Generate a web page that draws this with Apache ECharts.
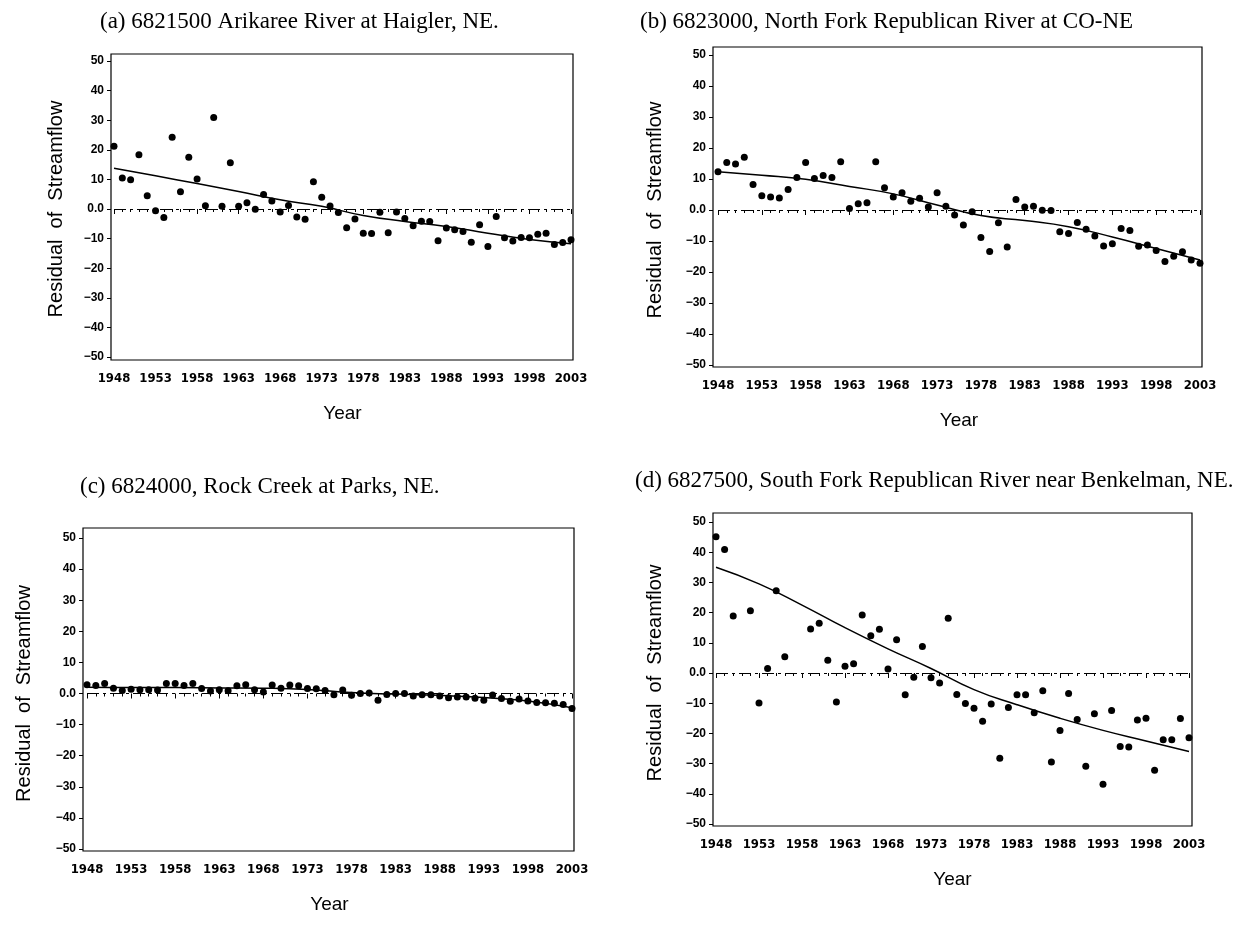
<!DOCTYPE html>
<html>
<head>
<meta charset="utf-8">
<title>Residual of Streamflow</title>
<script src="https://cdn.jsdelivr.net/npm/echarts@6/dist/echarts.min.js"></script>
<style>
    html, body { margin: 0; padding: 0; background: #fff; }
    #chart { width: 1254px; height: 930px; }
</style>
</head>
<body>
<div id="chart"></div>
<script>
// ---------- data ----------
var years = [1948, 1949, 1950, 1951, 1952, 1953, 1954, 1955, 1956, 1957,
    1958, 1959, 1960, 1961, 1962, 1963, 1964, 1965, 1966, 1967,
    1968, 1969, 1970, 1971, 1972, 1973, 1974, 1975, 1976, 1977,
    1978, 1979, 1980, 1981, 1982, 1983, 1984, 1985, 1986, 1987,
    1988, 1989, 1990, 1991, 1992, 1993, 1994, 1995, 1996, 1997,
    1998, 1999, 2000, 2001, 2002, 2003];

// (a) 6821500 Arikaree River
var resA = [21.2, 10.5, 9.9, 18.3, 4.5, -0.6, -2.9, 24.2, 5.8, 17.5,
    10.1, 1.1, 30.9, 0.9, 15.6, 0.9, 2.1, -0.1, 4.9, 2.7,
    -1.0, 1.2, -2.7, -3.5, 9.2, 4.0, 1.0, -1.2, -6.3, -3.4,
    -8.2, -8.3, -1.1, -8.0, -1.0, -3.2, -5.7, -4.1, -4.2, -10.7,
    -6.4, -7.0, -7.6, -11.2, -5.3, -12.7, -2.5, -9.7, -10.8, -9.6,
    -9.7, -8.5, -8.2, -12.0, -11.3, -10.4];

// (b) 6823000 North Fork Republican
var resB = [12.3, 15.3, 14.8, 17.0, 8.2, 4.6, 4.2, 3.9, 6.6, 10.5,
    15.3, 10.2, 11.1, 10.5, 15.6, 0.5, 2.0, 2.3, 15.6, 7.2,
    4.2, 5.6, 2.8, 3.8, 1.0, 5.6, 1.2, -1.6, -4.8, -0.6,
    -8.9, -13.4, -4.1, -11.9, 3.4, 1.0, 1.2, -0.1, -0.2, -7.0,
    -7.6, -4.0, -6.2, -8.4, -11.6, -10.9, -6.0, -6.6, -11.7, -11.3,
    -13.1, -16.6, -14.9, -13.5, -16.1, -17.2];

// (c) 6824000 Rock Creek
var resC = [2.8, 2.6, 3.2, 1.7, 1.0, 1.4, 1.2, 1.2, 1.1, 3.2,
    3.2, 2.6, 3.2, 1.6, 0.8, 1.2, 0.9, 2.5, 2.8, 1.2,
    0.5, 2.7, 1.7, 2.7, 2.5, 1.6, 1.5, 1.0, -0.4, 1.1,
    -0.6, 0.0, 0.2, -2.2, -0.3, 0.0, 0.0, -0.8, -0.4, -0.4,
    -0.8, -1.4, -1.1, -1.1, -1.5, -2.2, -0.5, -1.6, -2.5, -1.8,
    -2.4, -2.9, -3.0, -3.1, -3.5, -4.8];

// (d) 6827500 South Fork Republican (no dot drawn for 1951, 1957, 1958)
var resD = [45.1, 40.9, 18.9, null, 20.6, -9.9, 1.5, 27.2, 5.4, null,
    null, 14.6, 16.5, 4.2, -9.6, 2.2, 3.1, 19.2, 12.3, 14.5,
    1.3, 11.0, -7.2, -1.4, 8.8, -1.6, -3.3, 18.1, -7.1, -10.1,
    -11.7, -16.0, -10.3, -28.2, -11.4, -7.2, -7.2, -13.2, -5.9, -29.5,
    -19.0, -6.8, -15.4, -30.9, -13.5, -36.8, -12.4, -24.3, -24.5, -15.6,
    -15.0, -32.2, -22.1, -22.1, -15.1, -21.4];

// fitted trend curves, read every five years
var trendYears = [1948, 1953, 1958, 1963, 1968, 1973, 1978, 1983, 1988, 1993, 1998, 2003];
var trendA = [13.8, 11.2, 8.6, 5.9, 3.1, 0.9, -2.2, -4.2, -5.9, -8.2, -10.3, -11.7];
var trendB = [12.3, 11.2, 9.9, 7.6, 5.2, 1.6, -1.8, -3.4, -5.4, -8.7, -12.4, -16.1];
var trendC = [2.0, 1.9, 1.9, 1.8, 1.7, 1.3, 0.3, -0.2, -0.6, -1.3, -2.4, -4.6];
var trendD = [35.0, 29.5, 22.5, 15.0, 8.0, 1.5, -5.5, -10.5, -15.0, -19.0, -22.5, -26.0];

var titles = [
    '(a) 6821500 Arikaree River at Haigler, NE.',
    '(b) 6823000, North Fork Republican River at CO-NE',
    '(c) 6824000, Rock Creek at Parks, NE.',
    '(d) 6827500, South Fork Republican River near Benkelman, NE.'
];

// ---------- layout ----------
var panels = [
    { title: titles[0], tl: 100, tt: 10, frame: [111, 54, 462, 306], plot: [114, 61, 457, 296], yGap: 45, res: resA, trend: trendA },
    { title: titles[1], tl: 640, tt: 10, frame: [713, 47, 489, 320], plot: [718, 55, 482, 310], yGap: 48, res: resB, trend: trendB },
    { title: titles[2], tl: 80, tt: 475, frame: [83, 528, 491, 323], plot: [87, 538, 485, 311], yGap: 49, res: resC, trend: trendC },
    { title: titles[3], tl: 635, tt: 469, frame: [713, 513, 479, 313], plot: [716, 522, 473, 302], yGap: 48, res: resD, trend: trendD }
];

var sans = "'Liberation Sans', Arial, sans-serif";
var narrow = "'Liberation Sans Narrow', 'DejaVu Sans Condensed', 'Liberation Sans', Arial, sans-serif";

function yLabel(v) {
    if (v === 0) return '0.0';
    return v < 0 ? '\u2212' + Math.abs(v) : String(v);
}

var option = {
    backgroundColor: '#fff',
    animation: false,
    title: [],
    grid: [],
    xAxis: [],
    yAxis: [],
    series: []
};

panels.forEach(function (p, i) {
    var fg = 2 * i, dg = 2 * i + 1;
    option.title.push({
        text: p.title, left: p.tl, top: p.tt, padding: 0,
        textStyle: { fontFamily: "'Liberation Serif', 'Times New Roman', serif", fontSize: 23, fontWeight: 'normal', color: '#000' }
    });
    // frame box
    option.grid.push({
        left: p.frame[0], top: p.frame[1], width: p.frame[2], height: p.frame[3],
        show: true, borderColor: '#000', borderWidth: 1.2, backgroundColor: 'transparent'
    });
    option.xAxis.push({ gridIndex: fg, type: 'value', min: 0, max: 1, show: false });
    option.yAxis.push({ gridIndex: fg, type: 'value', min: 0, max: 1, show: false });
    // plot area
    option.grid.push({ left: p.plot[0], top: p.plot[1], width: p.plot[2], height: p.plot[3] });
    option.xAxis.push({
        gridIndex: dg, type: 'value', min: 1948, max: 2003, interval: 5,
        offset: (p.frame[1] + p.frame[3]) - (p.plot[1] + p.plot[3]),
        axisLine: { show: false },
        axisTick: { show: true, length: 5, lineStyle: { color: '#000', width: 1 } },
        minorTick: { show: true, splitNumber: 5, length: 3, lineStyle: { color: '#000', width: 1 } },
        splitLine: { show: false },
        axisLabel: {
            color: '#000', fontFamily: narrow, fontSize: 13, fontWeight: 'bold', margin: 12,
            showMinLabel: true, showMaxLabel: true,
            formatter: function (v) { return String(v); }
        },
        name: 'Year', nameLocation: 'middle', nameGap: 44,
        nameTextStyle: { color: '#000', fontFamily: sans, fontSize: 19 }
    });
    option.yAxis.push({
        gridIndex: dg, type: 'value', min: -50, max: 50, interval: 10,
        offset: p.plot[0] - p.frame[0],
        axisLine: { show: false },
        axisTick: { show: true, length: 4, lineStyle: { color: '#000', width: 1 } },
        splitLine: { show: false },
        axisLabel: { color: '#000', fontFamily: sans, fontSize: 12, fontWeight: 'bold', margin: 7, formatter: yLabel },
        name: 'Residual  of  Streamflow', nameLocation: 'middle', nameRotate: 90, nameGap: p.yGap,
        nameTextStyle: { color: '#000', fontFamily: sans, fontSize: 20 }
    });

    var pts = [];
    years.forEach(function (y, k) {
        if (p.res[k] !== null) pts.push([y, p.res[k]]);
    });
    option.series.push({
        type: 'scatter', xAxisIndex: dg, yAxisIndex: dg,
        data: pts, symbol: 'circle', symbolSize: 7,
        itemStyle: { color: '#000', opacity: 1 }, z: 3
    });
    option.series.push({
        type: 'line', xAxisIndex: dg, yAxisIndex: dg,
        data: trendYears.map(function (y, k) { return [y, p.trend[k]]; }),
        smooth: true, showSymbol: false,
        lineStyle: { color: '#000', width: 1.5 },
        markLine: {
            silent: true, symbol: ['none', 'none'], label: { show: false },
            lineStyle: { color: '#000', width: 1.2, type: [12, 4, 3, 4] },
            data: [{ yAxis: 0 }]
        },
        z: 2
    });
});

var chart = echarts.init(document.getElementById('chart'));
chart.setOption(option);
</script>
</body>
</html>
